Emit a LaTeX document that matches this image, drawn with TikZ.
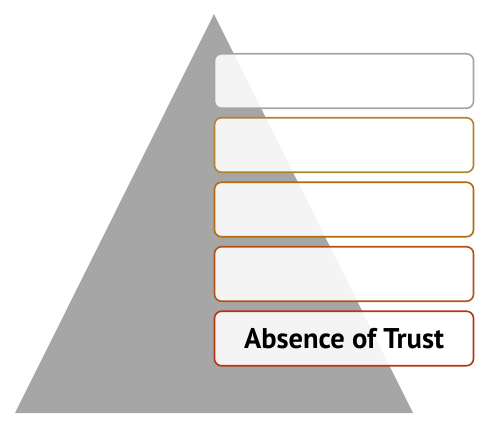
\documentclass[tikz,border=0pt]{standalone}
\usepackage{fontspec}
\setmainfont{PT Sans}
\usepackage{tikz}
\usetikzlibrary{positioning}

\definecolor{pyrgray}{HTML}{A6A6A6}
\definecolor{edgeA}{HTML}{A5A5A5}
\definecolor{edgeB}{HTML}{B08330}
\definecolor{edgeC}{HTML}{B36B10}
\definecolor{edgeD}{HTML}{B5521A}
\definecolor{edgeE}{HTML}{B5360F}

\begin{document}
\begin{tikzpicture}[
  x=1pt, y=-1pt,
  layer/.style={draw, line width=1.6pt, rounded corners=7pt, fill=white, fill opacity=0.88,
    text opacity=1, minimum width=259pt, minimum height=54.5pt, inner sep=0pt,
    font=\bfseries\fontsize{28.5}{32}\selectfont, align=center}
]
\useasboundingbox (0,0) rectangle (484,423);
\fill[pyrgray] (214,14) -- (413,413) -- (15,413) -- cycle;
\node[layer, draw=edgeA] (layer5) at (344,81) {};
\node[layer, draw=edgeB] (layer4) at (344,145) {};
\node[layer, draw=edgeC] (layer3) at (344,209.5) {};
\node[layer, draw=edgeD] (layer2) at (344,274) {};
\node[layer, draw=edgeE] (layer1) at (344,338.5) {Absence of Trust};
\end{tikzpicture}
\end{document}
